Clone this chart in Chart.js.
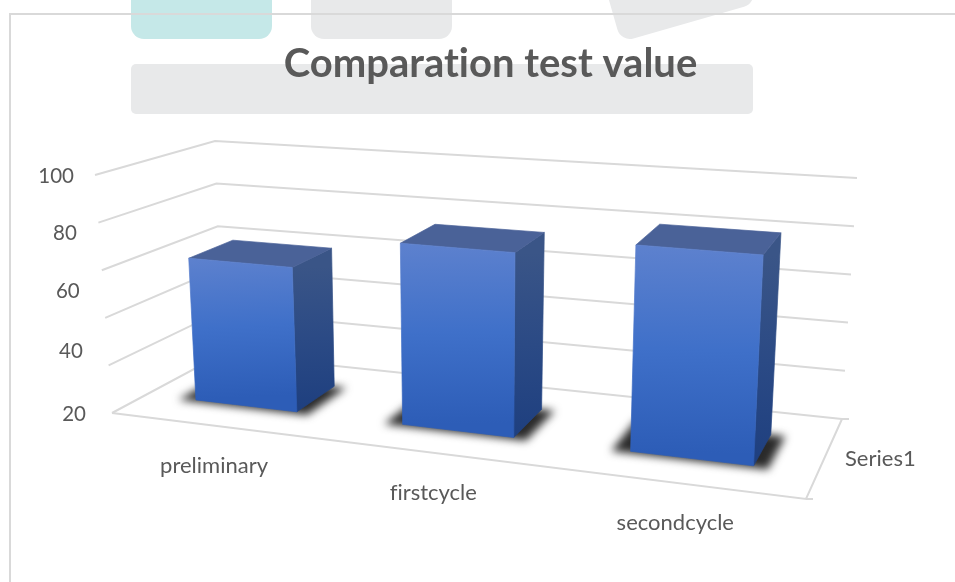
<!DOCTYPE html>
<html>
<head>
<meta charset="utf-8">
<title>Comparation test value</title>
<script src="https://cdn.jsdelivr.net/npm/chart.js@4"></script>
<style>
  html, body { margin: 0; padding: 0; background: #fff; overflow: hidden; }
  #wrap { position: relative; width: 955px; height: 582px; overflow: hidden; }
  .patch { position: absolute; background: #e8e9ea; }
  #myChart { position: absolute; left: 0; top: 0; }
</style>
</head>
<body>
<div id="wrap">
  <div class="patch" style="left:131px;top:-20px;width:141px;height:59px;border-radius:13px;background:#c5e8e8"></div>
  <div class="patch" style="left:311px;top:-20px;width:141px;height:59px;border-radius:13px"></div>
  <div class="patch" style="left:621px;top:-99px;width:141px;height:141px;border-radius:13px;transform-origin:0 100%;transform:rotate(-16deg)"></div>
  <div class="patch" style="left:131px;top:64px;width:622px;height:50px;border-radius:5px"></div>
  <canvas id="myChart" width="955" height="582"></canvas>
</div>
<script>
const titleText = 'Comparation test value';
const categories = ['preliminary', 'firstcycle', 'secondcycle'];
const seriesName = 'Series1';
const seriesValues = [61, 75, 82];
const gridTicks = [0, 20, 40, 60, 80, 100];
const tickLabels = [100, 80, 60, 40, 20];

// corners of the 3d box as seen in the picture
const box = {
  floorFrontLeft: [112, 413], floorFrontRight: [806, 499],
  floorBackLeft: [222, 354], floorBackRight: [842, 419],
  topFrontLeft: [95, 175], topFrontRight: [820, 230],
  topBackLeft: [215, 141], topBackRight: [857, 178]
};
const widthSkew = -0.138;     // categories get narrower towards the left
const barDepth = [0.32, 0.72];
const labelSkew = 0.06;

const textColor = '#595959';
const lineColor = '#d9d9d9';

function lerp(a, b, k) {
  return [a[0] + (b[0] - a[0]) * k, a[1] + (b[1] - a[1]) * k];
}

// t = across the categories, d = depth front to back, h = height, all 0..1
function project(t, d, h) {
  const u = (1 + widthSkew) * t / (1 + widthSkew * t);
  const floor = lerp(lerp(box.floorFrontLeft, box.floorFrontRight, u), lerp(box.floorBackLeft, box.floorBackRight, u), d);
  const top = lerp(lerp(box.topFrontLeft, box.topFrontRight, u), lerp(box.topBackLeft, box.topBackRight, u), d);
  return lerp(floor, top, h);
}

function path(ctx, pts) {
  ctx.beginPath();
  pts.forEach((p, i) => i ? ctx.lineTo(p[0], p[1]) : ctx.moveTo(p[0], p[1]));
  ctx.closePath();
}

function line(ctx, pts) {
  ctx.beginPath();
  pts.forEach((p, i) => i ? ctx.lineTo(p[0], p[1]) : ctx.moveTo(p[0], p[1]));
  ctx.stroke();
}

function gradient(ctx, from, to, stops) {
  const g = ctx.createLinearGradient(from[0], from[1], to[0], to[1]);
  stops.forEach((s, i) => g.addColorStop(i / (stops.length - 1), s));
  return g;
}

// fill and stroke with the same paint so no white seam shows between faces
function face(ctx, pts, paint) {
  ctx.fillStyle = paint;
  ctx.strokeStyle = paint;
  ctx.lineWidth = 0.7;
  path(ctx, pts);
  ctx.fill();
  ctx.stroke();
}

const box3d = {
  id: 'box3d',
  // outer frame and the walls go under the title and the flat chart
  beforeDraw(chart) {
    const ctx = chart.ctx;
    const { chartArea: area, scales } = chart;
    ctx.textRendering = 'optimizeSpeed'; // no ti / fi ligatures
    ctx.save();
    ctx.strokeStyle = lineColor;
    ctx.lineWidth = 2;
    line(ctx, [[955, 14], [10, 14], [10, 582]]);

    gridTicks.forEach(tick => {
      const h = (area.bottom - scales.y.getPixelForValue(tick)) / area.height;
      line(ctx, [project(0, 0, h), project(0, 1, h), project(1, 1, h)]);
    });
    const fr = project(1, 0, 0), br = project(1, 1, 0);
    line(ctx, [project(0, 0, 0), fr, br]);
    line(ctx, [fr, [fr[0] + 7, fr[1]]]);
    line(ctx, [br, [br[0] + 7, br[1]]]);
    ctx.restore();
  },
  afterDatasetsDraw(chart) {
    const ctx = chart.ctx;
    const area = chart.chartArea;
    const bars = chart.getDatasetMeta(0).data;
    const [d0, d1] = barDepth;

    bars.forEach(el => {
      const t0 = (el.x - el.width / 2 - area.left) / area.width;
      const t1 = (el.x + el.width / 2 - area.left) / area.width;
      const h = (area.bottom - el.y) / area.height;

      ctx.save();
      ctx.filter = 'blur(4px)';
      ctx.fillStyle = '#2a2a2a';
      path(ctx, [project(t0 - 0.025, d0 - 0.025, 0), project(t1 + 0.02, d0 - 0.025, 0), project(t1 + 0.02, d1, 0), project(t0 - 0.025, d1, 0)]);
      ctx.fill();
      ctx.restore();

      const fbl = project(t0, d0, 0), fbr = project(t1, d0, 0), bbr = project(t1, d1, 0);
      const ftl = project(t0, d0, h), ftr = project(t1, d0, h), btr = project(t1, d1, h), btl = project(t0, d1, h);

      ctx.save();
      face(ctx, [ftr, btr, bbr, fbr], gradient(ctx, ftr, fbr, ['#3a5587', '#2b4a85', '#1e3f7f']));
      face(ctx, [ftl, btl, btr, ftr], '#4a6298');
      face(ctx, [ftl, ftr, fbr, fbl], gradient(ctx, ftl, fbl, ['#5d81ce', '#3f70c9', '#2d5db7']));
      ctx.restore();
    });

    // axis text follows the box instead of the flat scales
    ctx.save();
    ctx.fillStyle = textColor;
    ctx.textBaseline = 'middle';
    ctx.textAlign = 'right';
    ctx.font = '20.5px Lato';
    tickLabels.forEach(tick => {
      const s = (area.bottom - chart.scales.labelY.getPixelForValue(tick)) / area.height;
      const p = project(0, 0, (1 + labelSkew) * s / (1 + labelSkew * s));
      ctx.fillText(String(tick), p[0] - 26 + 5 * s, p[1] + 1);
    });
    ctx.font = '22px Lato';
    ctx.textAlign = 'center';
    bars.forEach((el, i) => {
      const p = project((el.x - area.left) / area.width, 0, 0);
      ctx.fillText(categories[i], p[0], p[1] + 40.5);
    });
    ctx.textAlign = 'left';
    const mid = lerp(project(1, 0, 0), project(1, 1, 0), 0.5);
    ctx.fillText(seriesName, mid[0] + 21, mid[1]);
    ctx.restore();
  }
};

new Chart(document.getElementById('myChart'), {
  type: 'bar',
  data: {
    labels: categories,
    datasets: [{
      label: seriesName,
      data: seriesValues,
      backgroundColor: 'transparent', // the 3d faces are painted by box3d
      barPercentage: 0.5,
      categoryPercentage: 1
    }]
  },
  options: {
    responsive: false,
    animation: false,
    layout: { padding: { left: 26, right: 0, top: 0, bottom: 0 } },
    plugins: {
      legend: { display: false },
      tooltip: { enabled: false },
      title: {
        display: true,
        text: titleText,
        color: textColor,
        font: { family: 'Lato', size: 40, weight: '700' },
        padding: { top: 40, bottom: 10 }
      }
    },
    scales: {
      x: { display: false },
      y: { display: false, min: 0, max: 100, ticks: { stepSize: 20 } },
      labelY: { type: 'linear', axis: 'y', display: false, min: 20, max: 100 }
    }
  },
  plugins: [box3d]
});
</script>
</body>
</html>
